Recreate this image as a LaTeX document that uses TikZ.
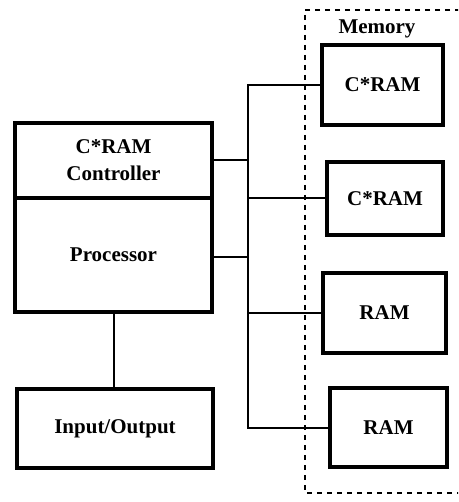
\documentclass[tikz,border=0pt]{standalone}
\usepackage{fontspec}
\setmainfont{Liberation Serif}
\usepackage{tikz}
\newcommand{\blockFont}[0]{\bfseries\fontsize{21}{27}\selectfont}

\begin{document}
\begin{tikzpicture}[x=1pt, y=-1pt]
  \tikzset{block/.style={draw, line width=3.5pt, font=\blockFont, align=center, inner sep=0pt},
           wire/.style={line width=2pt}}
  \useasboundingbox (0,0) rectangle (458,502);
  \clip (0,0) rectangle (458,502);
  % processor side
  \node[block, minimum width=197, minimum height=75] (ctrl) at (113.5,160.5) {C*RAM\\Controller};
  \node[block, minimum width=197, minimum height=114] (proc) at (113.5,255) {Processor};
  \node[block, minimum width=196, minimum height=79] (io) at (115,428.5) {Input/Output};
  % memory side
  \node[block, minimum width=121, minimum height=80] (cram-1) at (382.5,85) {C*RAM};
  \node[block, minimum width=116, minimum height=73] (cram-2) at (385,198.5) {C*RAM};
  \node[block, minimum width=123, minimum height=80] (ram-1) at (384.5,313) {RAM};
  \node[block, minimum width=117, minimum height=79] (ram-2) at (388.5,427.5) {RAM};
  \node[font=\blockFont] (mem) at (377,29) {Memory};
  \draw[line width=1.5pt, dash pattern=on 5pt off 5pt] (480,10) -- (305,10) -- (305,493) -- (480,493);
  % bus
  \coordinate (bus) at (248,0);
  \draw[wire] (cram-1.west) -- (cram-1.west -| bus) -- (ram-2.west -| bus) -- (ram-2.west);
  \draw[wire] (cram-2.west) -- (cram-2.west -| bus);
  \draw[wire] (ram-1.west) -- (ram-1.west -| bus);
  \draw[wire] (ctrl.east) -- (ctrl.east -| bus);
  \draw[wire] ([yshift=-2pt]proc.east) -- ([yshift=-2pt]proc.east -| bus);
  \draw[wire] (proc.south) -- (proc.south |- io.north);
\end{tikzpicture}
\end{document}
